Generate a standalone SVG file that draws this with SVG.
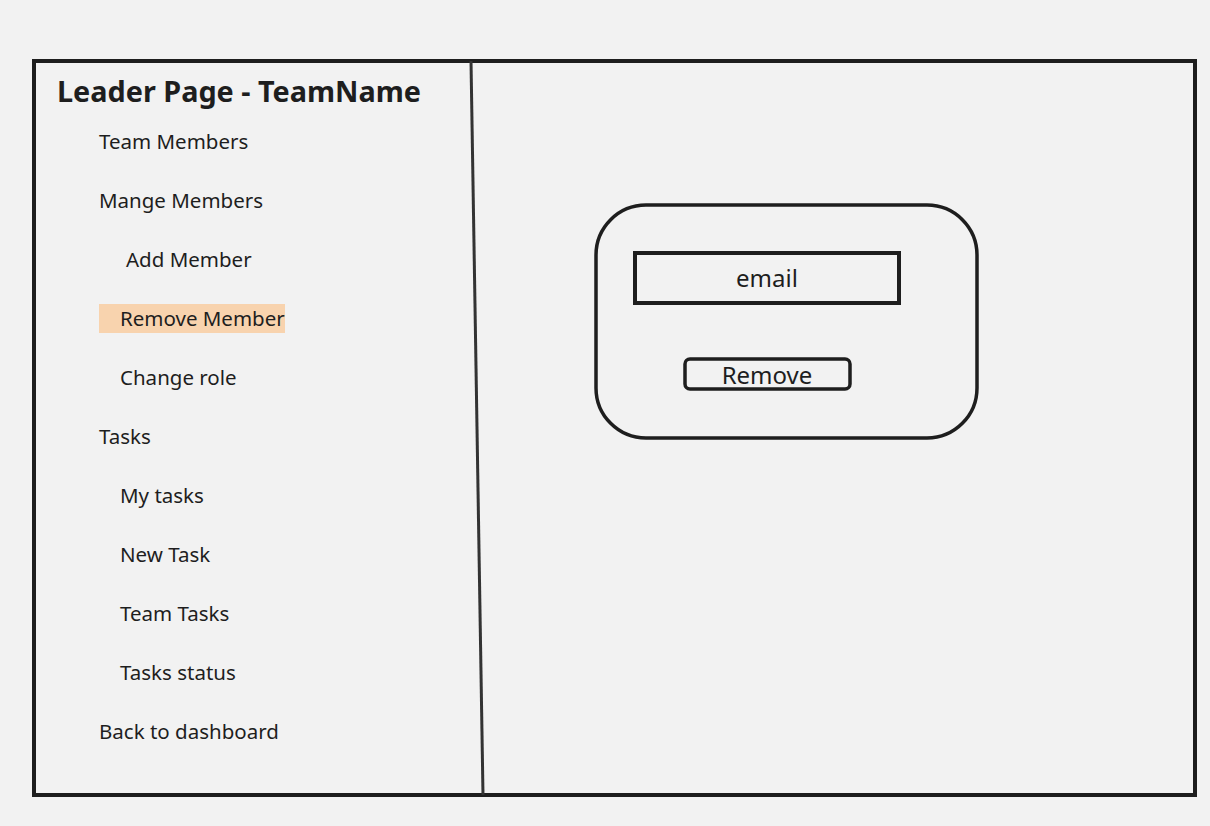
<svg xmlns="http://www.w3.org/2000/svg" width="1210" height="826" viewBox="0 0 1210 826">
<style>
.item{font-family:"Noto Sans","Open Sans",sans-serif;font-size:20.5px;fill:#1e1e1e}
.title{font-family:"Noto Sans","Open Sans",sans-serif;font-size:28.8px;font-weight:bold;fill:#1e1e1e}
.big{font-family:"Noto Sans","Open Sans",sans-serif;font-size:24px;fill:#1e1e1e;text-anchor:middle}
.frame{fill:none;stroke:#1e1e1e;stroke-width:4}
</style>
<rect width="1210" height="826" fill="#f2f2f2"/>
<g id="frame">
<rect class="frame" x="34" y="61" width="1161" height="734"/>
<line x1="471" y1="61" x2="483" y2="795" stroke="#333" stroke-width="3"/>
</g>
<g id="sidebar">
<text class="title" x="57" y="102">Leader Page - TeamName</text>
<rect x="99" y="304" width="186" height="29" fill="#f8d3ae"/>
<text class="item" x="99" y="149">Team Members</text>
<text class="item" x="99" y="208">Mange Members</text>
<text class="item" x="126" y="267">Add Member</text>
<text class="item" x="120" y="326">Remove Member</text>
<text class="item" x="120" y="385">Change role</text>
<text class="item" x="99" y="444">Tasks</text>
<text class="item" x="120" y="503">My tasks</text>
<text class="item" x="120" y="562">New Task</text>
<text class="item" x="120" y="621">Team Tasks</text>
<text class="item" x="120" y="680">Tasks status</text>
<text class="item" x="99" y="739">Back to dashboard</text>
</g>
<g id="card">
<rect x="596" y="205" width="381" height="233" rx="50" fill="none" stroke="#1e1e1e" stroke-width="3.5"/>
</g>
<g id="email">
<rect x="635" y="253" width="264" height="50" fill="none" stroke="#1e1e1e" stroke-width="4"/>
<text class="big" x="767" y="287">email</text>
</g>
<g id="remove">
<rect x="685" y="359" width="165" height="30" rx="5" fill="none" stroke="#1e1e1e" stroke-width="3.5"/>
<text class="big" x="767" y="384">Remove</text>
</g>
</svg>
